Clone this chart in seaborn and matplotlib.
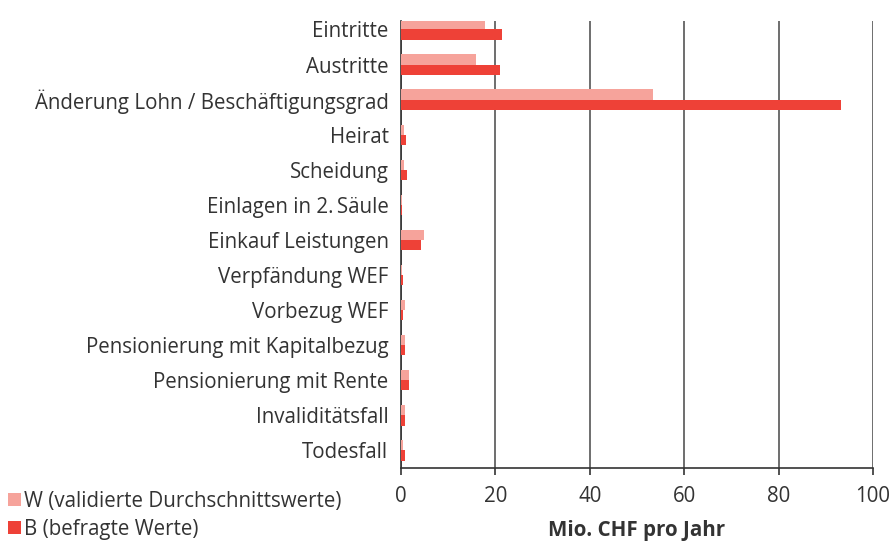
import numpy as np
import pandas as pd
import matplotlib
matplotlib.use("Agg")
import matplotlib.pyplot as plt
import seaborn as sns
from matplotlib.patches import Patch

categories = [
    "Eintritte",
    "Austritte",
    "Änderung Lohn / Beschäftigungsgrad",
    "Heirat",
    "Scheidung",
    "Einlagen in 2.\u2009Säule",
    "Einkauf Leistungen",
    "Verpfändung WEF",
    "Vorbezug WEF",
    "Pensionierung mit Kapitalbezug",
    "Pensionierung mit Rente",
    "Invaliditätsfall",
    "Todesfall",
]
w_values = [17.8, 15.9, 53.4, 0.7, 0.7, 0.25, 4.9, 0.25, 0.9, 0.9, 1.6, 0.9, 0.5]
b_values = [21.4, 21.0, 93.2, 1.1, 1.3, 0.25, 4.2, 0.5, 0.5, 0.9, 1.6, 0.9, 0.9]
series = ["W (validierte Durchschnittswerte)", "B (befragte Werte)"]
colors = ["#F6A39B", "#EE4137"]

df = pd.DataFrame({
    "Kategorie": categories * 2,
    "Wert": w_values + b_values,
    "Serie": [series[0]] * len(categories) + [series[1]] * len(categories),
})

sns.set_style("white")
plt.rcParams["font.family"] = ["Open Sans", "DejaVu Sans"]
text_color = "#333333"
fs = 14.8

fig = plt.figure(figsize=(8.91, 5.43), dpi=100)
ax = fig.add_axes([401 / 891, 75 / 543, 472 / 891, 447 / 543])

sns.barplot(data=df, x="Wert", y="Kategorie", hue="Serie", palette=colors,
            orient="h", width=0.58, saturation=1, linewidth=0,
            ax=ax, legend=False, zorder=3)

# top category is slightly cut off in the original
y_top = -0.24
ax.set_xlim(0, 100)
ax.set_ylim(len(categories) - 0.5, y_top)
ax.set_xticks(np.arange(0, 101, 20))
ax.grid(axis="x", color="#555555", linewidth=1.2, zorder=0)
ax.grid(axis="y", visible=False)

for side in ["top", "right"]:
    ax.spines[side].set_visible(False)
for side in ["left", "bottom"]:
    ax.spines[side].set_color("#333333")
    ax.spines[side].set_linewidth(1.2)

ax.tick_params(axis="y", which="major", length=0, pad=9, labelsize=fs, labelcolor=text_color)
ax.set_yticks([y_top] + list(np.arange(0.5, len(categories), 1)), minor=True)
ax.tick_params(axis="y", which="minor", length=5, width=1.2, color="#333333", direction="out")
ax.tick_params(axis="x", which="major", length=5, width=1.2, color="#333333",
               direction="out", pad=8, labelsize=fs, labelcolor=text_color, bottom=True)

ax.set_ylabel("")
ax.set_xlabel("Mio. CHF pro Jahr", fontsize=fs, fontweight="bold", color=text_color, labelpad=9)

handles = [Patch(facecolor=c, edgecolor="none") for c in colors]
fig.legend(handles, series, loc="lower left", bbox_to_anchor=(0.0, -0.01),
           frameon=False, fontsize=fs, labelcolor=text_color,
           handlelength=0.6, handleheight=0.6, handletextpad=0.15,
           labelspacing=0.35, borderpad=0.2, borderaxespad=0.2)

fig.savefig("out.png", dpi=100)
